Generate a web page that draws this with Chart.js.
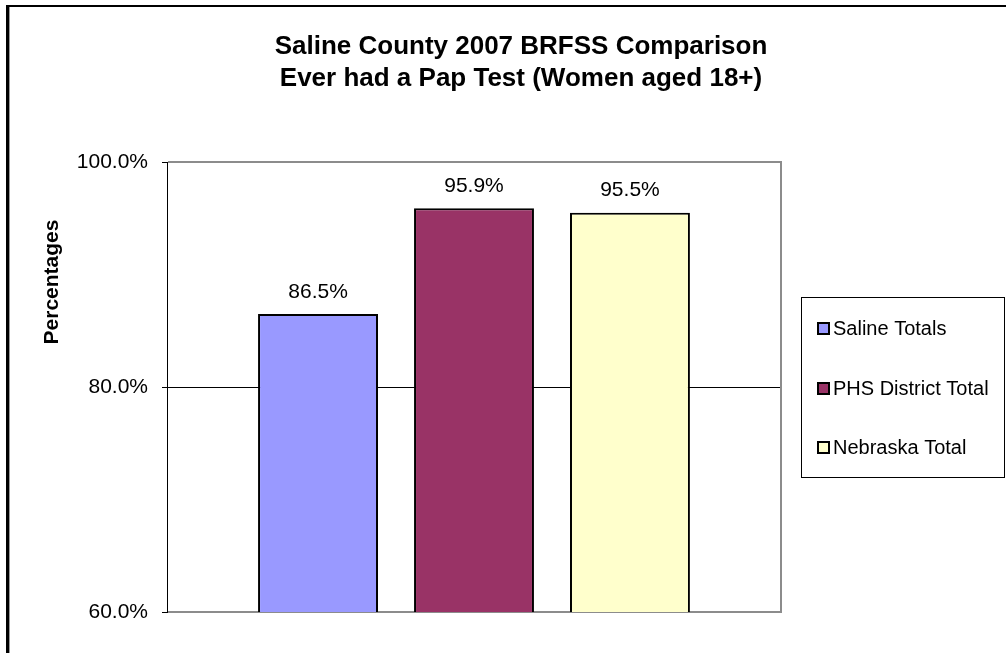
<!DOCTYPE html>
<html>
<head>
<meta charset="utf-8">
<script src="https://cdn.jsdelivr.net/npm/chart.js@4.4.1/dist/chart.umd.min.js"></script>
<style>
  html, body { margin: 0; padding: 0; background: #fff; }
  canvas { display: block; }
</style>
</head>
<body>
<canvas id="c" width="1006" height="653"></canvas>
<script>
const titleLines = ["Saline County 2007 BRFSS Comparison", "Ever had a Pap Test (Women aged 18+)"];
const yAxisTitle = "Percentages";
const categories = [""];
const seriesNames = ["Saline Totals", "PHS District Total", "Nebraska Total"];
const seriesValues = [86.5, 95.9, 95.5];
const seriesColors = ["#9999FF", "#993366", "#FFFFCC"];
const yTicks = [60, 80, 100];

const FONT = "'Liberation Sans', Arial, sans-serif";

const decorPlugin = {
  id: 'decor',
  beforeDraw(chart) {
    const ctx = chart.ctx;
    ctx.save();
    ctx.fillStyle = '#fff';
    ctx.fillRect(0, 0, chart.width, chart.height);
    // outer frame (left and top)
    ctx.fillStyle = '#000';
    ctx.fillRect(6, 5, 3, chart.height - 5);
    ctx.fillRect(6, 5, chart.width - 6, 2);
    ctx.fillStyle = '#9a9a9a';
    ctx.fillRect(9, 7, 1, chart.height - 7);
    // title
    ctx.fillStyle = '#000';
    ctx.font = "bold 26px " + FONT;
    ctx.textAlign = 'center';
    ctx.textBaseline = 'middle';
    ctx.fillText(titleLines[0], 521, 47);
    ctx.fillText(titleLines[1], 521, 79);
    // y axis title
    ctx.save();
    ctx.translate(52, 282);
    ctx.rotate(-Math.PI / 2);
    ctx.font = "bold 21px " + FONT;
    ctx.fillText(yAxisTitle, 0, 0);
    ctx.restore();
    ctx.restore();
  },
  beforeDatasetsDraw(chart) {
    const ctx = chart.ctx;
    const a = chart.chartArea;
    ctx.save();
    ctx.strokeStyle = '#8c8c8c';
    ctx.lineWidth = 2;
    ctx.beginPath();
    ctx.moveTo(a.left + 1, a.top);
    ctx.lineTo(a.right, a.top);
    ctx.lineTo(a.right, a.bottom);
    ctx.lineTo(a.left + 1, a.bottom);
    ctx.stroke();
    ctx.restore();
  },
  afterDatasetsDraw(chart) {
    const ctx = chart.ctx;
    ctx.save();
    ctx.fillStyle = '#000';
    ctx.font = "21px " + FONT;
    ctx.textAlign = 'center';
    ctx.textBaseline = 'middle';
    chart.data.datasets.forEach((ds, i) => {
      const meta = chart.getDatasetMeta(i);
      meta.data.forEach((bar, j) => {
        ctx.fillText(ds.data[j].toFixed(1) + '%', bar.x, bar.y - 22);
      });
    });
    // legend
    const lx = 801, ly = 297, lw = 203, lh = 180;
    ctx.fillStyle = '#fff';
    ctx.fillRect(lx, ly, lw, lh);
    ctx.strokeStyle = '#000';
    ctx.lineWidth = 1;
    ctx.strokeRect(lx + 0.5, ly + 0.5, lw, lh);
    const rows = [328, 388, 447];
    ctx.textAlign = 'left';
    ctx.font = "20px " + FONT;
    chart.data.datasets.forEach((ds, i) => {
      const y = rows[i];
      ctx.fillStyle = ds.backgroundColor;
      ctx.fillRect(818, y - 5, 11, 11);
      ctx.strokeStyle = '#000';
      ctx.lineWidth = 2;
      ctx.strokeRect(818, y - 5, 11, 11);
      ctx.fillStyle = '#000';
      ctx.fillText(ds.label, 833, y + 1);
    });
    ctx.restore();
  }
};

new Chart(document.getElementById('c'), {
  type: 'bar',
  data: {
    labels: categories,
    datasets: seriesNames.map((name, i) => ({
      label: name,
      data: [seriesValues[i]],
      backgroundColor: seriesColors[i],
      borderColor: '#000',
      borderWidth: 2,
      borderSkipped: false,
      categoryPercentage: 0.762,
      barPercentage: 0.769
    }))
  },
  options: {
    responsive: false,
    animation: false,
    layout: { padding: { left: 0, top: 162, right: 225, bottom: 41 } },
    plugins: {
      legend: { display: false },
      title: { display: false },
      tooltip: { enabled: false }
    },
    scales: {
      x: { display: false },
      y: {
        min: 60, max: 100,
        afterFit(scale) { scale.width = 167; },
        afterBuildTicks(scale) { scale.ticks = yTicks.map(v => ({ value: v })); },
        ticks: {
          padding: 14,
          color: '#000',
          font: { family: FONT, size: 21 },
          callback: v => v.toFixed(1) + '%'
        },
        grid: { color: '#000', lineWidth: 1, tickLength: 5, tickColor: '#000' },
        border: { color: '#000', width: 1 }
      }
    }
  },
  plugins: [decorPlugin]
});
</script>
</body>
</html>
